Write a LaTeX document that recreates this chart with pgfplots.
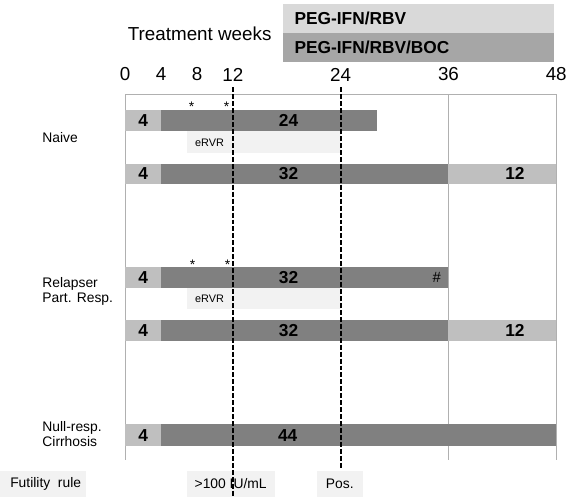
\documentclass[border=0pt]{standalone}
\usepackage{pgfplots}
\pgfplotsset{compat=1.18}
\usepackage{fontspec}
\setmainfont{Liberation Sans}
\definecolor{lightbar}{HTML}{BFBFBF}
\definecolor{darkbar}{HTML}{808080}
\definecolor{boxfill}{HTML}{F2F2F2}
\definecolor{legtop}{HTML}{D9D9D9}
\definecolor{legbot}{HTML}{A6A6A6}
\definecolor{gridgray}{HTML}{B0B0B0}
\newcommand{\rect}[5]{\addplot[fill=#5, draw=none] coordinates {(#1,#3) (#2,#3) (#2,#4) (#1,#4)} -- cycle;}
\newcommand{\fs}[1]{\fontsize{#1}{#1}\selectfont}
\begin{document}
\begin{tikzpicture}
\begin{axis}[
  scale only axis, width=570bp, height=500bp,
  xmin=-13.935, xmax=49.106, ymin=0, ymax=500, y dir=reverse,
  axis line style={draw=none}, ticks=none, clip=false,
]
% legend boxes
\rect{17.585}{47.78}{4}{33}{legtop}
\rect{17.585}{47.78}{33}{62}{legbot}
% eRVR boxes
\rect{6.9}{24}{132}{154}{boxfill}
\rect{6.9}{24}{290}{311}{boxfill}
% bottom boxes
\rect{-13.935}{-4.313}{474}{500}{boxfill}
\rect{6.857}{16.70}{474}{500}{boxfill}
\rect{21.35}{26.43}{474}{500}{boxfill}
% grid lines
\addplot[gridgray, line width=1bp] coordinates {(0,95) (48,95)};
\addplot[gridgray, line width=1bp] coordinates {(0,95) (0,463)};
\addplot[gridgray, line width=1bp] coordinates {(36,95) (36,463)};
\addplot[gridgray, line width=1bp] coordinates {(48,95) (48,463)};
% Naive
\rect{0}{4}{111}{132}{lightbar}
\rect{4}{28}{111}{132}{darkbar}
\rect{0}{4}{165}{185}{lightbar}
\rect{4}{36}{165}{185}{darkbar}
\rect{36}{48}{165}{185}{lightbar}
% Relapser
\rect{0}{4}{269}{290}{lightbar}
\rect{4}{36}{269}{290}{darkbar}
\rect{0}{4}{322}{343}{lightbar}
\rect{4}{36}{322}{343}{darkbar}
\rect{36}{48}{322}{343}{lightbar}
% Null
\rect{0}{4}{427}{449}{lightbar}
\rect{4}{48}{427}{449}{darkbar}
% dashed lines
\addplot[black, line width=2bp, dash pattern=on 5bp off 2bp] coordinates {(12,88) (12,500)};
\addplot[black, line width=2bp, dash pattern=on 5bp off 2bp] coordinates {(24,88) (24,473)};
% header text
\node[font=\fs{19}] at (axis cs:8.3,34) {Treatment weeks};
\node[font=\fs{17.5}\bfseries, anchor=west] at (axis cs:18.47,19) {PEG-IFN/RBV};
\node[font=\fs{17.5}\bfseries, anchor=west] at (axis cs:18.47,48) {PEG-IFN/RBV/BOC};
\foreach \t in {0,4,8,12,24,36,48} {
  \edef\temp{\noexpand\node[font=\noexpand\fs{19}] at (axis cs:\t,75) {\t};}
  \temp
}
% asterisks
\node[font=\fs{14}] at (axis cs:7.4,107) {*};
\node[font=\fs{14}] at (axis cs:11.3,107) {*};
\node[font=\fs{14}] at (axis cs:7.5,267) {*};
\node[font=\fs{14}] at (axis cs:11.4,267) {*};
% bar labels
\node[font=\fs{17.5}\bfseries] at (axis cs:2,121.5) {4};
\node[font=\fs{17.5}\bfseries] at (axis cs:18.2,121.5) {24};
\node[font=\fs{11}] at (axis cs:9.4,144) {eRVR};
\node[font=\fs{17.5}\bfseries] at (axis cs:2,175) {4};
\node[font=\fs{17.5}\bfseries] at (axis cs:18.2,175) {32};
\node[font=\fs{17.5}\bfseries] at (axis cs:43.4,175) {12};
\node[font=\fs{17.5}\bfseries] at (axis cs:2,279.5) {4};
\node[font=\fs{17.5}\bfseries] at (axis cs:18.2,279.5) {32};
\node[font=\fs{15}] at (axis cs:34.7,279) {\#};
\node[font=\fs{11}] at (axis cs:9.4,301) {eRVR};
\node[font=\fs{17.5}\bfseries] at (axis cs:2,332.5) {4};
\node[font=\fs{17.5}\bfseries] at (axis cs:18.2,332.5) {32};
\node[font=\fs{17.5}\bfseries] at (axis cs:43.4,332.5) {12};
\node[font=\fs{17.5}\bfseries] at (axis cs:2,438) {4};
\node[font=\fs{17.5}\bfseries] at (axis cs:18.1,438) {44};
% row labels
\node[font=\fs{14}, anchor=west] at (axis cs:-9.6,138) {Naive};
\node[font=\fs{14}, anchor=west, align=left] at (axis cs:-9.6,293) {Relapser\\[1bp]Part. Resp.};
\node[font=\fs{14}, anchor=west, align=left] at (axis cs:-9.6,437) {Null-resp.\\[1bp]Cirrhosis};
% bottom texts
\node[font=\fs{14}] at (axis cs:-8.85,487) {Futility\ \ rule};
\node[font=\fs{14}] at (axis cs:11.75,487) {>100 IU/mL};
\node[font=\fs{14}] at (axis cs:23.9,487) {Pos.};
\end{axis}
\end{tikzpicture}
\end{document}
